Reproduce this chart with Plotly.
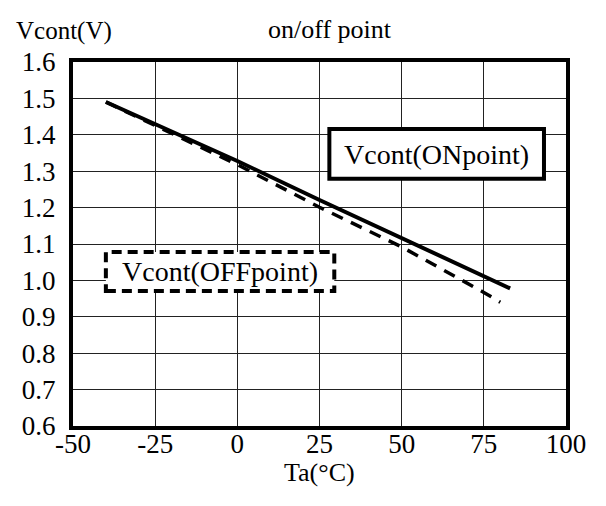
import plotly.graph_objects as go

ta_on = [-40, 0, 25, 50, 75, 83]
vcont_on = [1.49, 1.328, 1.221, 1.117, 1.011, 0.978]

ta_off = [-40, 0, 25, 50, 75, 80]
vcont_off = [1.49, 1.318, 1.201, 1.092, 0.967, 0.94]

x_ticks = [-50, -25, 0, 25, 50, 75, 100]
x_labels = ["-50", "-25", "0", "25", "50", "75", "100"]
y_ticks = [0.6, 0.7, 0.8, 0.9, 1.0, 1.1, 1.2, 1.3, 1.4, 1.5, 1.6]

FONT = "Liberation Serif"

fig = go.Figure()
fig.add_trace(go.Scatter(
    x=ta_on, y=vcont_on, mode="lines", name="Vcont(ONpoint)",
    line=dict(color="black", width=4)
))
fig.add_trace(go.Scatter(
    x=ta_off, y=vcont_off, mode="lines", name="Vcont(OFFpoint)",
    line=dict(color="black", width=3.5, dash="12px,9px")
))

# label boxes
fig.add_shape(type="rect", x0=28, x1=93.3, y0=1.279, y1=1.416,
              line=dict(color="black", width=4), fillcolor="white",
              layer="above")
fig.add_shape(type="rect", x0=-40, x1=29.5, y0=0.971, y1=1.078,
              line=dict(color="black", width=4, dash="10px,6px"),
              fillcolor="white", layer="above")
fig.add_annotation(x=60.6, y=1.347, text="Vcont(ONpoint)", showarrow=False,
                   font=dict(size=28, family=FONT, color="black"))
fig.add_annotation(x=-5.3, y=1.025, text="Vcont(OFFpoint)", showarrow=False,
                   font=dict(size=28, family=FONT, color="black"))

fig.add_annotation(x=-0.12, y=1.085, xref="paper", yref="paper",
                   xanchor="left", yanchor="middle", text="Vcont(V)",
                   showarrow=False, font=dict(size=25, family=FONT, color="black"))
fig.add_annotation(x=0.522, y=1.09, xref="paper", yref="paper",
                   xanchor="center", yanchor="middle", text="on/off point",
                   showarrow=False, font=dict(size=26, family=FONT, color="black"))
fig.add_annotation(x=0.5, y=-0.128, xref="paper", yref="paper",
                   xanchor="center", yanchor="middle", text="Ta(°C)",
                   showarrow=False, font=dict(size=26, family=FONT, color="black"))

fig.update_xaxes(
    range=[-50, 100], tickvals=x_ticks, ticktext=x_labels, showgrid=True,
    gridcolor="#222", gridwidth=1, zeroline=False,
    showline=True, linecolor="black", linewidth=4, mirror=True,
    ticks="", ticklabelstandoff=-9,
    tickfont=dict(size=27, family=FONT, color="black")
)
fig.update_yaxes(
    range=[0.6, 1.6], tickvals=y_ticks, tickformat=".1f", showgrid=True,
    gridcolor="#222", gridwidth=1, zeroline=False,
    showline=True, linecolor="black", linewidth=4, mirror=True,
    ticks="", ticklabelstandoff=8,
    tickfont=dict(size=27, family=FONT, color="black")
)
fig.update_layout(
    width=590, height=490,
    margin=dict(l=65, r=29, t=54, b=72),
    paper_bgcolor="white", plot_bgcolor="white",
    showlegend=False
)
fig.write_html("out.html")
